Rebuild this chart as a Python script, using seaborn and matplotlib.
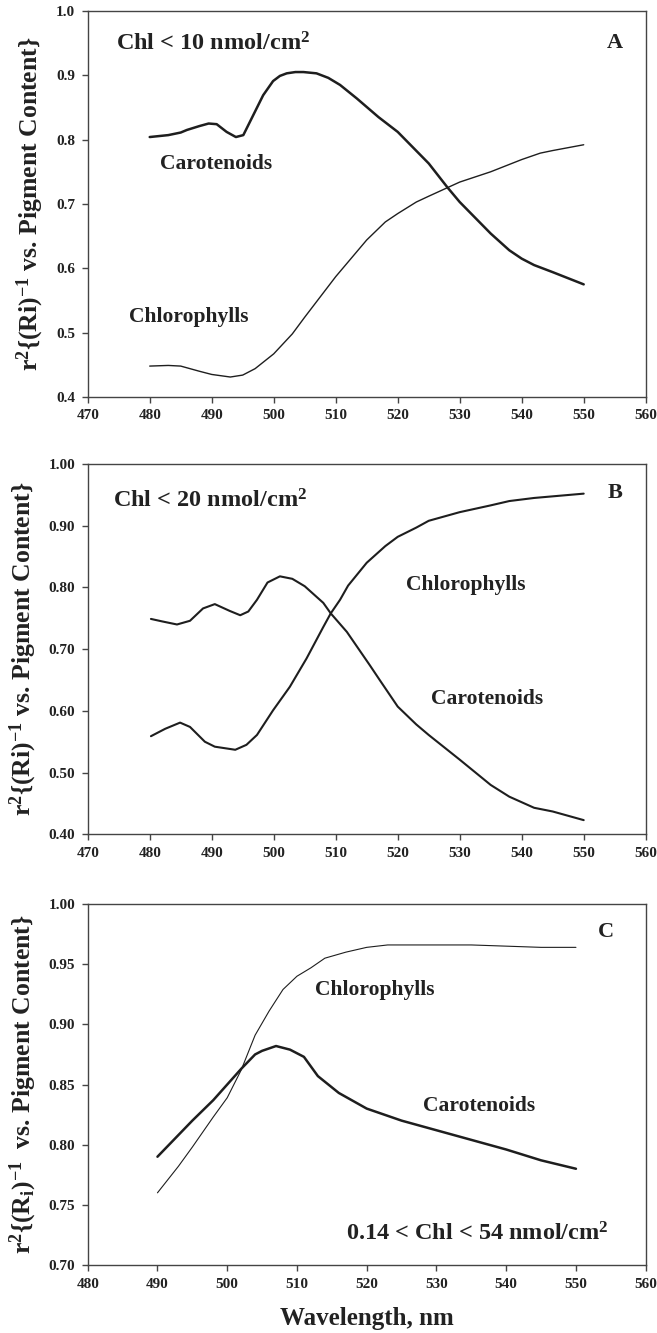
import numpy as np
import pandas as pd
import matplotlib
matplotlib.use("Agg")
import matplotlib.pyplot as plt
import seaborn as sns

# ---------------- data ----------------
# Panel A  (Chl < 10 nmol/cm2)
a_car_wl = [480, 483, 485, 486, 488, 489.5, 490.8, 492.4, 493.9, 495.1, 496.7, 498.3,
            499.9, 501, 502.1, 503.5, 504.8, 506.9, 508.8, 510.7, 513.4, 516.9, 520,
            525, 528, 530, 535, 538, 540, 542, 545, 550]
a_car_r2 = [0.804, 0.807, 0.811, 0.815, 0.821, 0.825, 0.824, 0.812, 0.804, 0.807,
            0.838, 0.869, 0.891, 0.899, 0.903, 0.905, 0.905, 0.903, 0.896, 0.885,
            0.864, 0.835, 0.812, 0.763, 0.726, 0.703, 0.654, 0.628, 0.615, 0.605,
            0.594, 0.575]
a_chl_wl = [480, 483, 485, 488, 490, 493, 495, 497, 500, 503, 505, 510, 515, 518,
            520, 523, 525, 530, 535, 540, 543, 545, 550]
a_chl_r2 = [0.448, 0.449, 0.448, 0.440, 0.435, 0.431, 0.434, 0.444, 0.467, 0.498,
            0.524, 0.587, 0.644, 0.672, 0.685, 0.703, 0.712, 0.734, 0.750, 0.769,
            0.779, 0.783, 0.792]

# Panel B  (Chl < 20 nmol/cm2)
b_car_wl = [480.2, 482, 484.4, 486.5, 488.6, 490.5, 492.9, 494.6, 495.9, 497.3, 499,
            501, 503, 505, 508, 509.2, 511.8, 515.5, 517.1, 520, 523, 525, 530, 535,
            538, 542, 545, 550]
b_car_r2 = [0.749, 0.745, 0.740, 0.746, 0.766, 0.773, 0.762, 0.755, 0.761, 0.780,
            0.808, 0.818, 0.814, 0.802, 0.775, 0.758, 0.728, 0.674, 0.650, 0.607,
            0.578, 0.561, 0.521, 0.480, 0.461, 0.443, 0.437, 0.423]
b_chl_wl = [480.2, 482.5, 484.9, 486.5, 488.9, 490.5, 493.8, 495.6, 497.3, 499.9,
            502.6, 505.3, 508, 509.2, 510.7, 512, 515, 518, 520, 523, 525, 530, 535,
            538, 542, 550]
b_chl_r2 = [0.559, 0.571, 0.581, 0.574, 0.550, 0.542, 0.537, 0.545, 0.561, 0.601,
            0.639, 0.685, 0.736, 0.758, 0.780, 0.803, 0.840, 0.867, 0.882, 0.897,
            0.908, 0.922, 0.933, 0.940, 0.945, 0.952]

# Panel C  (0.14 < Chl < 54 nmol/cm2)
c_car_wl = [490, 493, 495, 498, 500, 502, 504, 505, 507, 509, 511, 513, 516, 520,
            525, 530, 535, 540, 545, 550]
c_car_r2 = [0.790, 0.808, 0.820, 0.837, 0.850, 0.863, 0.875, 0.878, 0.882, 0.879,
            0.873, 0.857, 0.843, 0.830, 0.820, 0.812, 0.804, 0.796, 0.787, 0.780]
c_chl_wl = [490, 493, 495, 498, 500, 502, 504, 506, 508, 510, 512, 514, 517, 520,
            523, 530, 535, 540, 545, 550]
c_chl_r2 = [0.760, 0.782, 0.798, 0.823, 0.839, 0.862, 0.891, 0.911, 0.929, 0.940,
            0.947, 0.955, 0.960, 0.964, 0.966, 0.966, 0.966, 0.965, 0.964, 0.964]

a_yticks = [0.4, 0.5, 0.6, 0.7, 0.8, 0.9, 1.0]
b_yticks = [0.40, 0.50, 0.60, 0.70, 0.80, 0.90, 1.00]
c_yticks = [0.70, 0.75, 0.80, 0.85, 0.90, 0.95, 1.00]
ab_xticks = [470, 480, 490, 500, 510, 520, 530, 540, 550, 560]
c_xticks = [480, 490, 500, 510, 520, 530, 540, 550, 560]

# ---------------- style ----------------
sns.set_style("ticks")
plt.rcParams["font.family"] = ["Liberation Serif", "DejaVu Serif"]
plt.rcParams["font.weight"] = "bold"
plt.rcParams["mathtext.fontset"] = "custom"
plt.rcParams["mathtext.rm"] = "Liberation Serif:bold"
plt.rcParams["mathtext.it"] = "Liberation Serif:bold"
plt.rcParams["mathtext.bf"] = "Liberation Serif:bold"
plt.rcParams["axes.edgecolor"] = "#444444"
plt.rcParams["xtick.color"] = "#444444"
plt.rcParams["ytick.color"] = "#444444"
plt.rcParams["xtick.labelcolor"] = "#222222"
plt.rcParams["ytick.labelcolor"] = "#222222"

LINE = "#1e1e1e"
TXT = "#222222"

fig = plt.figure(figsize=(6.57, 13.33), dpi=100)
axA = fig.add_axes([0.1335, 0.7022, 0.8493, 0.2896])
axB = fig.add_axes([0.1335, 0.3741, 0.8493, 0.2778])
axC = fig.add_axes([0.1335, 0.0510, 0.8493, 0.2708])


def draw(ax, wl1, r1, lw1, wl2, r2, lw2):
    d1 = pd.DataFrame({"wl": wl1, "r2": r1})
    d2 = pd.DataFrame({"wl": wl2, "r2": r2})
    sns.lineplot(data=d1, x="wl", y="r2", ax=ax, color=LINE, lw=lw1, estimator=None,
                 sort=True, solid_joinstyle="round", solid_capstyle="round")
    sns.lineplot(data=d2, x="wl", y="r2", ax=ax, color=LINE, lw=lw2, estimator=None,
                 sort=True, solid_joinstyle="round", solid_capstyle="round")
    for s in ax.spines.values():
        s.set_visible(True)
        s.set_linewidth(1.0)
    ax.tick_params(direction="out", length=4, width=1.0, labelsize=11, pad=5)
    ax.set_xlabel("")
    ax.set_ylabel("")


ylab = r"r$^{2}${(Ri)$^{-1}$ vs. Pigment Content}"
ylabC = r"r$^{2}${(R$_{\mathrm{i}}$)$^{-1}$  vs. Pigment Content}"

LBL = 15.5
HDR = 17.5
LET = 16
YL = 18.5

# Panel A
draw(axA, a_car_wl, a_car_r2, 1.8, a_chl_wl, a_chl_r2, 1.0)
axA.set_xlim(470, 560)
axA.set_ylim(0.4, 1.0)
axA.set_xticks(ab_xticks)
axA.set_yticks(a_yticks)
axA.set_yticklabels([f"{v:.1f}" for v in a_yticks], fontweight="bold")
axA.set_xticklabels([str(v) for v in ab_xticks], fontweight="bold")
axA.text(474.5, 0.948, r"Chl < 10 nmol/cm$^{2}$", fontsize=HDR, fontweight="bold", color=TXT, va="center", ha="left")
axA.text(555, 0.95, "A", fontsize=LET, fontweight="bold", color=TXT, va="center", ha="center")
axA.text(490.7, 0.762, "Carotenoids", fontsize=LBL, fontweight="bold", color=TXT, va="center", ha="center")
axA.text(486.3, 0.525, "Chlorophylls", fontsize=LBL, fontweight="bold", color=TXT, va="center", ha="center")
axA.set_ylabel(ylab, fontsize=YL, fontweight="bold", color=TXT, labelpad=7)

# Panel B
draw(axB, b_car_wl, b_car_r2, 1.5, b_chl_wl, b_chl_r2, 1.5)
axB.set_xlim(470, 560)
axB.set_ylim(0.4, 1.0)
axB.set_xticks(ab_xticks)
axB.set_yticks(b_yticks)
axB.set_yticklabels([f"{v:.2f}" for v in b_yticks], fontweight="bold")
axB.set_xticklabels([str(v) for v in ab_xticks], fontweight="bold")
axB.text(474, 0.94, r"Chl < 20 nmol/cm$^{2}$", fontsize=HDR, fontweight="bold", color=TXT, va="center", ha="left")
axB.text(555, 0.953, "B", fontsize=LET, fontweight="bold", color=TXT, va="center", ha="center")
axB.text(531, 0.804, "Chlorophylls", fontsize=LBL, fontweight="bold", color=TXT, va="center", ha="center")
axB.text(534.4, 0.619, "Carotenoids", fontsize=LBL, fontweight="bold", color=TXT, va="center", ha="center")
axB.set_ylabel(ylab, fontsize=YL, fontweight="bold", color=TXT, labelpad=7)

# Panel C
draw(axC, c_car_wl, c_car_r2, 1.8, c_chl_wl, c_chl_r2, 0.8)
axC.set_xlim(480, 560)
axC.set_ylim(0.7, 1.0)
axC.set_xticks(c_xticks)
axC.set_yticks(c_yticks)
axC.set_yticklabels([f"{v:.2f}" for v in c_yticks], fontweight="bold")
axC.set_xticklabels([str(v) for v in c_xticks], fontweight="bold")
axC.text(554.3, 0.977, "C", fontsize=LET, fontweight="bold", color=TXT, va="center", ha="center")
axC.text(521.2, 0.9285, "Chlorophylls", fontsize=LBL, fontweight="bold", color=TXT, va="center", ha="center")
axC.text(536.1, 0.8324, "Carotenoids", fontsize=LBL, fontweight="bold", color=TXT, va="center", ha="center")
axC.text(554.7, 0.726, r"0.14 < Chl < 54 nmol/cm$^{2}$", fontsize=HDR, fontweight="bold", color=TXT, va="center", ha="right")
axC.set_ylabel(ylabC, fontsize=YL, fontweight="bold", color=TXT, labelpad=7)
axC.set_xlabel("Wavelength, nm", fontsize=18, fontweight="bold", color=TXT, labelpad=12)

fig.savefig("out.png", dpi=100)
